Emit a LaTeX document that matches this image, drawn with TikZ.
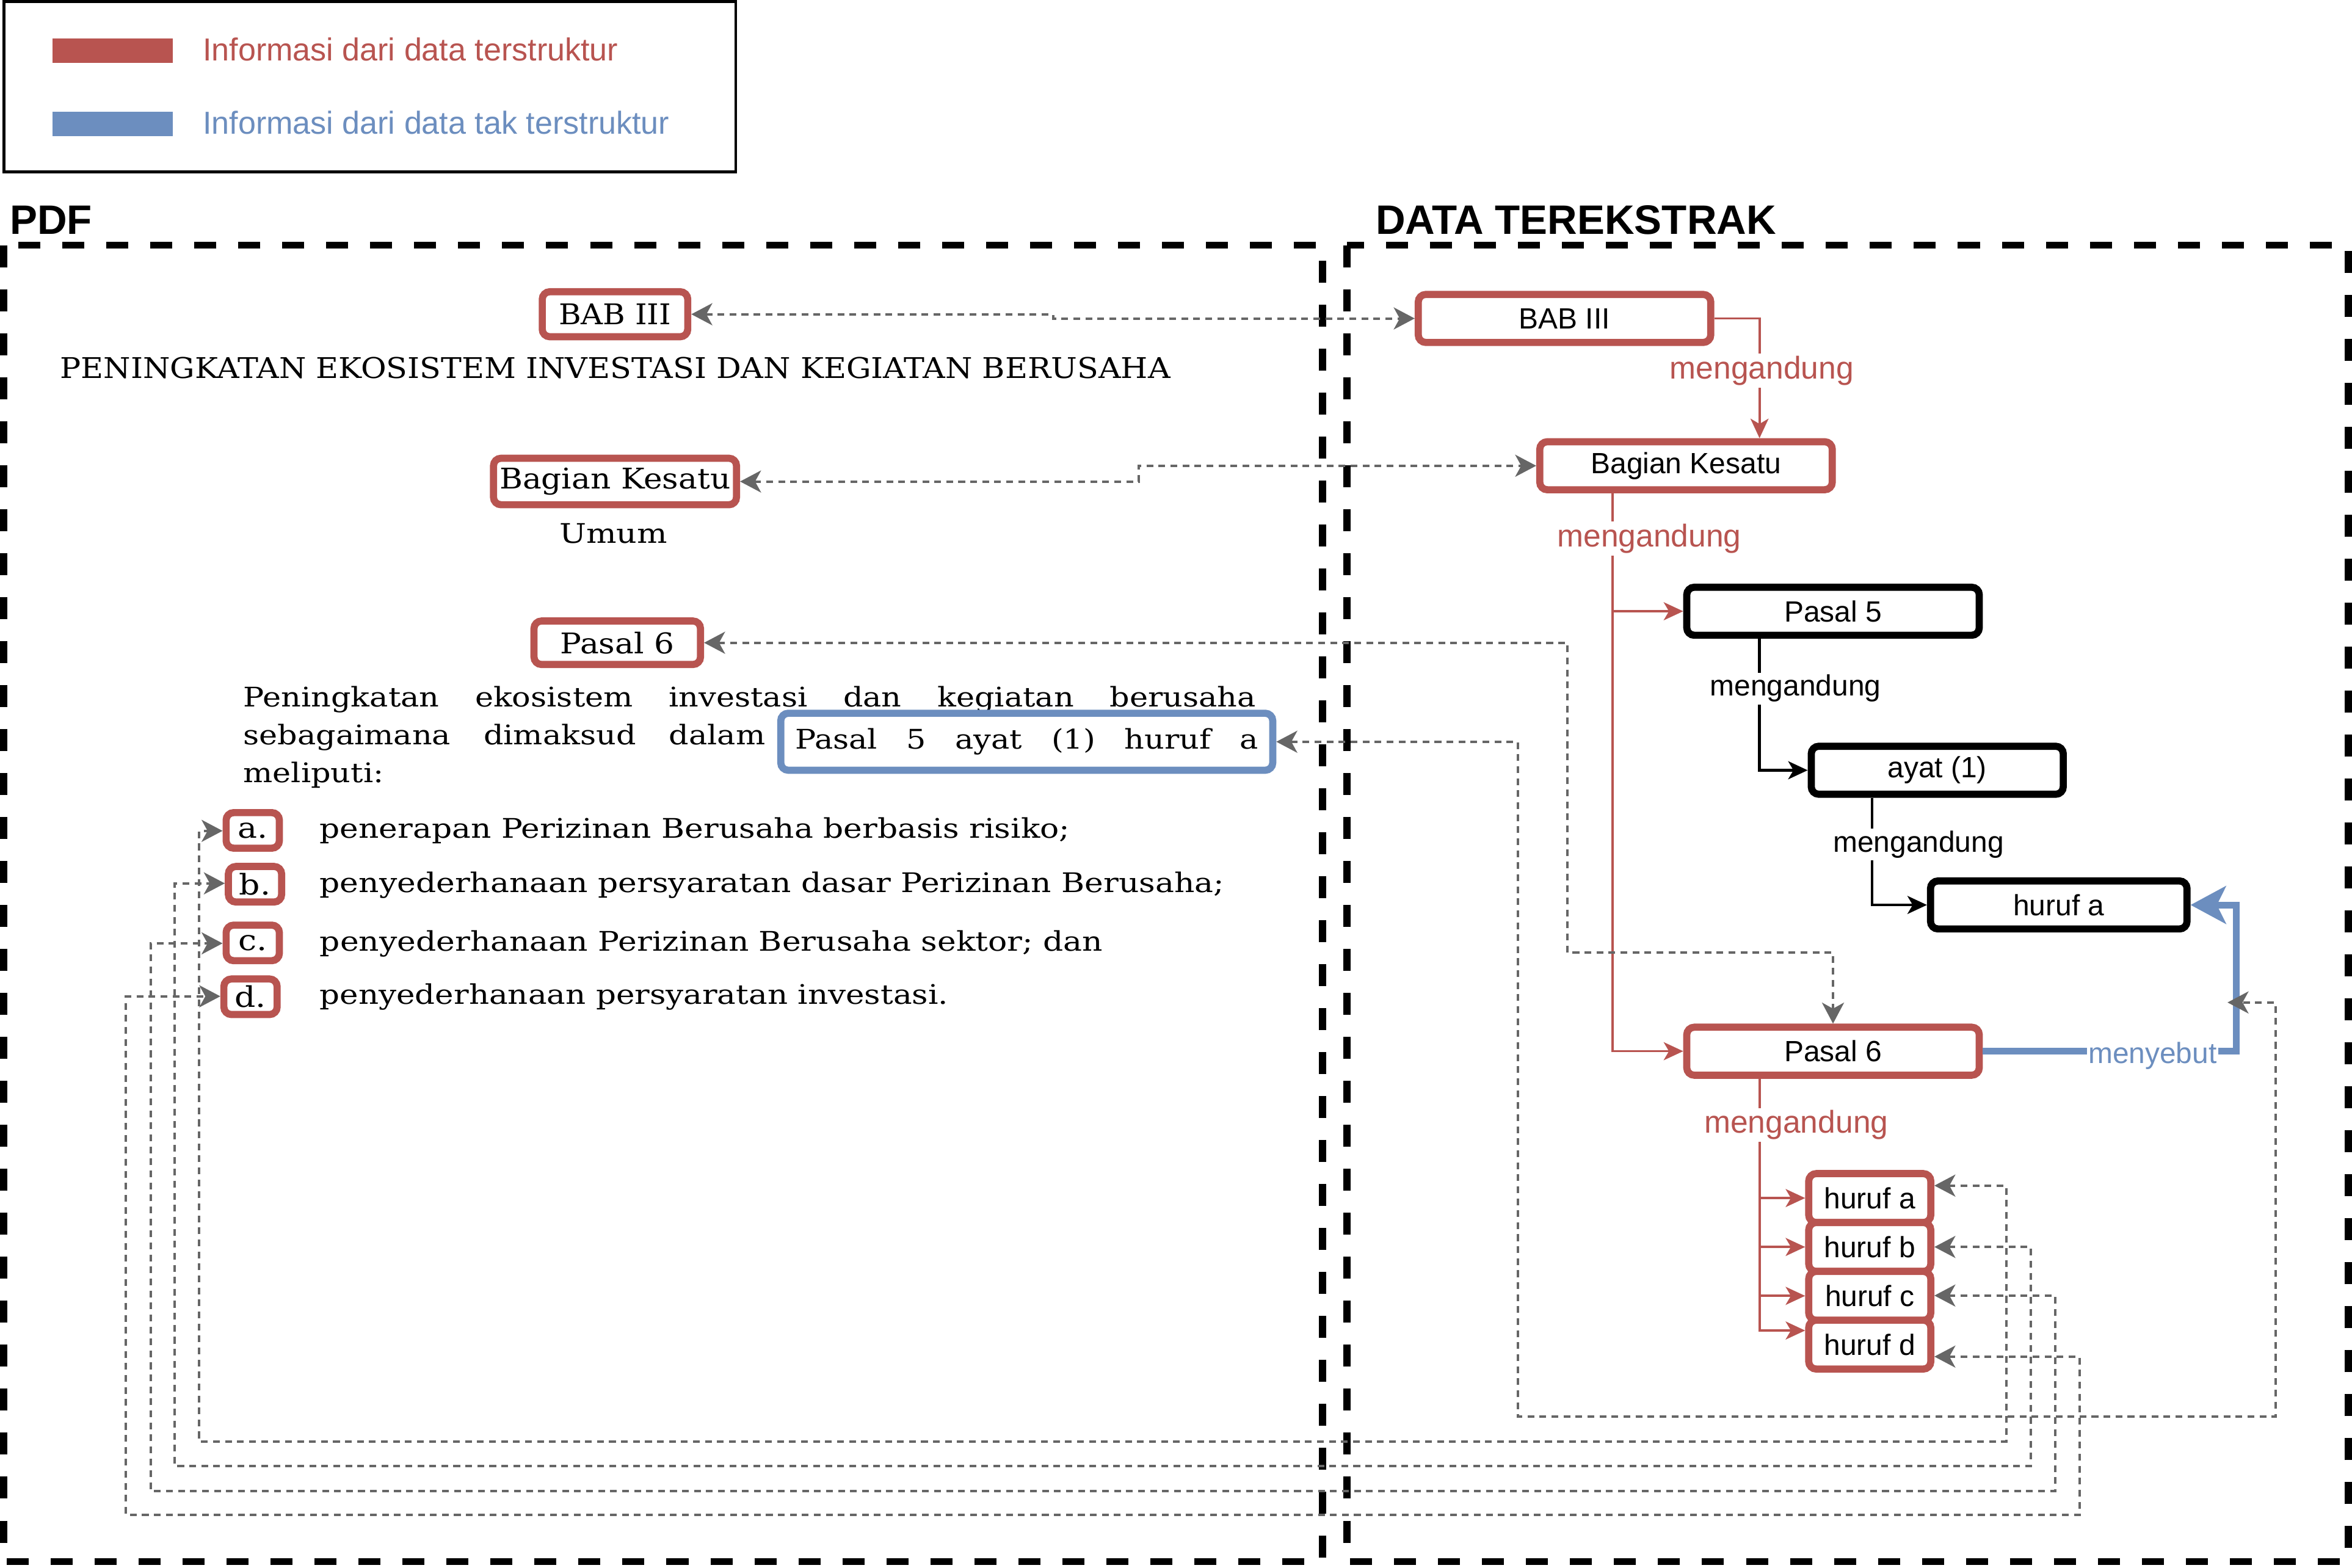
\documentclass[tikz,border=0pt]{standalone}
\usepackage{fontspec}
\usepackage{graphicx}
\setmainfont{Liberation Sans}
\newfontfamily\pdff[FakeStretch=1.15]{DejaVu Serif}
\usetikzlibrary{arrows.meta}
\definecolor{dred}{HTML}{B85450}
\definecolor{dblue}{HTML}{6C8EBF}
\definecolor{dgray}{HTML}{666666}
\newcommand\fw[2]{\resizebox{#1}{\height}{#2}}
\tikzset{
  x=1pt, y=-1pt,
  gt/.tip={Stealth[length=14pt,width=14.7pt,inset=4pt]},
  rt/.tip={Stealth[length=13pt,width=12pt,inset=3.5pt]},
  bt/.tip={Stealth[length=23.5pt,width=25pt,inset=6pt]},
  heavy/.style={line width=4.75pt, dash pattern=on 14.66pt off 14.66pt},
  gline/.style={draw=dgray, line width=1.6pt, dash pattern=on 4.5pt off 3.5pt, gt-gt},
  rline/.style={draw=dred, line width=1.5pt, -rt},
  kline/.style={draw=black, line width=1.8pt, -rt},
  bline/.style={draw=dblue, line width=4.5pt, -bt},
  rbox/.style={draw=dred, line width=4.75pt, rounded corners=5pt, fill=white, inner sep=0pt,
    font=\fontsize{19.5}{22}\selectfont},
  kbox/.style={rbox, draw=black},
  pbox/.style={draw=dred, line width=4.75pt, rounded corners=5pt, fill=white, inner sep=0pt,
    font=\pdff\fontsize{19}{22}\selectfont},
  ptxt/.style={inner sep=0pt, font=\pdff\fontsize{18}{21}\selectfont},
  rlab/.style={fill=white, inner sep=1.5pt, text=dred, font=\fontsize{21}{24}\selectfont},
  klab/.style={fill=white, inner sep=1.5pt, text=black, font=\fontsize{19.5}{22}\selectfont},
  blab/.style={fill=white, inner sep=1pt, text=dblue, font=\fontsize{19.5}{22}\selectfont},
}
\begin{document}
\begin{tikzpicture}
\useasboundingbox[fill=white] (0,0) rectangle (1568,1045.33);

% legend
\draw[line width=2pt] (2.5,1.2) rectangle (490.5,114.5);
\fill[dred] (35,25.8) rectangle (115,41.8);
\fill[dblue] (35,74.6) rectangle (115,90.6);
\node[anchor=base west, inner sep=0pt, text=dred, font=\fontsize{21.2}{24}\selectfont] (leg1) at (135,40.4) {Informasi dari data terstruktur};
\node[anchor=base west, inner sep=0pt, text=dblue, font=\fontsize{21.2}{24}\selectfont] (leg2) at (135,89.3) {Informasi dari data tak terstruktur};

% titles
\node[anchor=base west, inner sep=0pt, font=\bfseries\fontsize{27.4}{30}\selectfont] (tpdf) at (6.5,156) {PDF};
\node[anchor=base west, inner sep=0pt, font=\bfseries\fontsize{27.4}{30}\selectfont] (tdata) at (917,156) {DATA TEREKSTRAK};

% frames
\draw[heavy] (2.4,163.5) rectangle (881.7,1041);
\draw[heavy] (898,163.5) rectangle (1565.5,1041);

% PDF side
\node[pbox, minimum width=97pt, minimum height=30pt] (pBAB) at (410,209.5) {\fw{75pt}{BAB III}};
\node[ptxt, anchor=base west] (phead) at (40,252) {\fontsize{19}{22}\selectfont\fw{740pt}{PENINGKATAN EKOSISTEM INVESTASI DAN KEGIATAN BERUSAHA}};
\node[pbox, minimum width=162pt, minimum height=31pt] (pBag) at (410,321) {\fw{154pt}{Bagian Kesatu}};
\node[ptxt, anchor=base] (pumum) at (409,362) {\fw{72pt}{Umum}};
\node[pbox, minimum width=111pt, minimum height=29pt] (pP6) at (411.5,428.5) {\fw{76pt}{Pasal 6}};
\node[ptxt, anchor=base west] (pl1) at (162,471) {\makebox[675pt][s]{Peningkatan ekosistem investasi dan kegiatan berusaha}};
\node[ptxt, anchor=base west] (pl2) at (162,496.5) {\makebox[348pt][s]{sebagaimana dimaksud dalam}};
\node[ptxt, anchor=base west] (pl3) at (162,521.5) {meliputi:};
\node[draw=dblue, line width=4.75pt, rounded corners=5pt, fill=white, inner sep=0pt,
  minimum width=328pt, minimum height=38pt, font=\pdff\fontsize{18}{21}\selectfont] (pRef) at (684.5,494.5) {\makebox[309pt][s]{Pasal 5 ayat (1) huruf a}};

\node[pbox, minimum width=35.5pt, minimum height=23.7pt] (pa) at (168.5,553.6) {a.};
\node[pbox, minimum width=35.5pt, minimum height=23.7pt] (pb) at (170,589.5) {b.};
\node[pbox, minimum width=35.5pt, minimum height=23.7pt] (pc) at (168.5,628.6) {c.};
\node[pbox, minimum width=35.5pt, minimum height=23.7pt] (pd) at (167,664.5) {d.};
\node[ptxt, anchor=base west] (ta) at (213,558.8) {\fw{500pt}{penerapan Perizinan Berusaha berbasis risiko;}};
\node[ptxt, anchor=base west] (tb) at (213,595) {\fw{603pt}{penyederhanaan persyaratan dasar Perizinan Berusaha;}};
\node[ptxt, anchor=base west] (tc) at (213,633.8) {\fw{522pt}{penyederhanaan Perizinan Berusaha sektor; dan}};
\node[ptxt, anchor=base west] (td) at (213,669.5) {\fw{419pt}{penyederhanaan persyaratan investasi.}};

% extracted data side
\node[rbox, minimum width=195pt, minimum height=32pt] (rBAB) at (1043,212.3) {BAB III};
\node[rbox, minimum width=195pt, minimum height=32pt] (rBag) at (1124,310.5) {Bagian Kesatu};
\node[kbox, minimum width=195pt, minimum height=32pt] (rP5) at (1222,407.5) {Pasal 5};
\node[kbox, minimum width=168pt, minimum height=32pt] (rAy) at (1291.5,513.5) {ayat (1)};
\node[kbox, minimum width=171pt, minimum height=32pt] (rHa) at (1372.5,603.3) {huruf a};
\node[rbox, minimum width=195pt, minimum height=32pt] (rP6) at (1222,700.8) {Pasal 6};
\node[rbox, minimum width=81.4pt, minimum height=32.6pt] (rLa) at (1246.5,798.7) {huruf a};
\node[rbox, minimum width=81.4pt, minimum height=32.6pt] (rLb) at (1246.5,831.3) {huruf b};
\node[rbox, minimum width=81.4pt, minimum height=32.6pt] (rLc) at (1246.5,863.9) {huruf c};
\node[rbox, minimum width=81.4pt, minimum height=32.6pt] (rLd) at (1246.5,896.4) {huruf d};

% structured connectors
\draw[rline] (rBAB.east) -- (1173,212.3) -- (rBag.north -| 1173,0);
\node[rlab] (m1) at (1174.5,247) {mengandung};
\draw[rline] (rBag.south -| 1075,0) -- (1075,700.8) -- (rP6.west);
\draw[rline] (1075,407.5) -- (rP5.west);
\node[rlab] (m2) at (1099.5,359) {mengandung};
\draw[kline] (rP5.south -| 1173,0) -- (1173,513.5) -- (rAy.west);
\node[klab] (m3) at (1197,459) {mengandung};
\draw[kline] (rAy.south -| 1248,0) -- (1248,603.3) -- (rHa.west);
\node[klab] (m4) at (1279,563) {mengandung};
\draw[rline] (rP6.south -| 1173,0) -- (1173,887) -- (rLd.west |- 0,887);
\draw[rline] (1173,798.7) -- (rLa.west);
\draw[rline] (1173,831.3) -- (rLb.west);
\draw[rline] (1173,863.9) -- (rLc.west);
\node[rlab] (m5) at (1197.5,750) {mengandung};

% unstructured
\draw[bline] (rP6.east) -- (1490.7,700.8) -- (1490.7,603.3) -- (rHa.east);
\node[blab] (mb) at (1435,704) {menyebut};

% mapping connectors
\draw[gline] (pBAB.east) -- (702,209.5) -- (702,212.3) -- (rBAB.west);
\draw[gline] (pBag.east) -- (759,321) -- (759,310.5) -- (rBag.west);
\draw[gline] (pP6.east) -- (1045,428.5) -- (1045,635) -- (1222,635) -- (rP6.north);
\coordinate (mref) at (1485,668.3);
\draw[gline] (pRef.east) -- (1012,494.5) -- (1012,944.5) -- (1517,944.5) -- (1517,668.3) -- (mref);
\draw[gline] (rLa.east |- 0,790.4) -- (1337.5,790.4) -- (1337.5,961) -- (132.7,961) -- (132.7,553.9) -- (pa.west |- 0,553.9);
\draw[gline] (rLb.east |- 0,831.3) -- (1353.8,831.3) -- (1353.8,977.5) -- (116.5,977.5) -- (116.5,588.9) -- (pb.west |- 0,588.9);
\draw[gline] (rLc.east |- 0,863.7) -- (1370,863.7) -- (1370,994) -- (100.4,994) -- (100.4,628.9) -- (pc.west |- 0,628.9);
\draw[gline] (rLd.east |- 0,904.4) -- (1386.3,904.4) -- (1386.3,1010) -- (84,1010) -- (84,664.2) -- (pd.west |- 0,664.2);
\end{tikzpicture}
\end{document}
